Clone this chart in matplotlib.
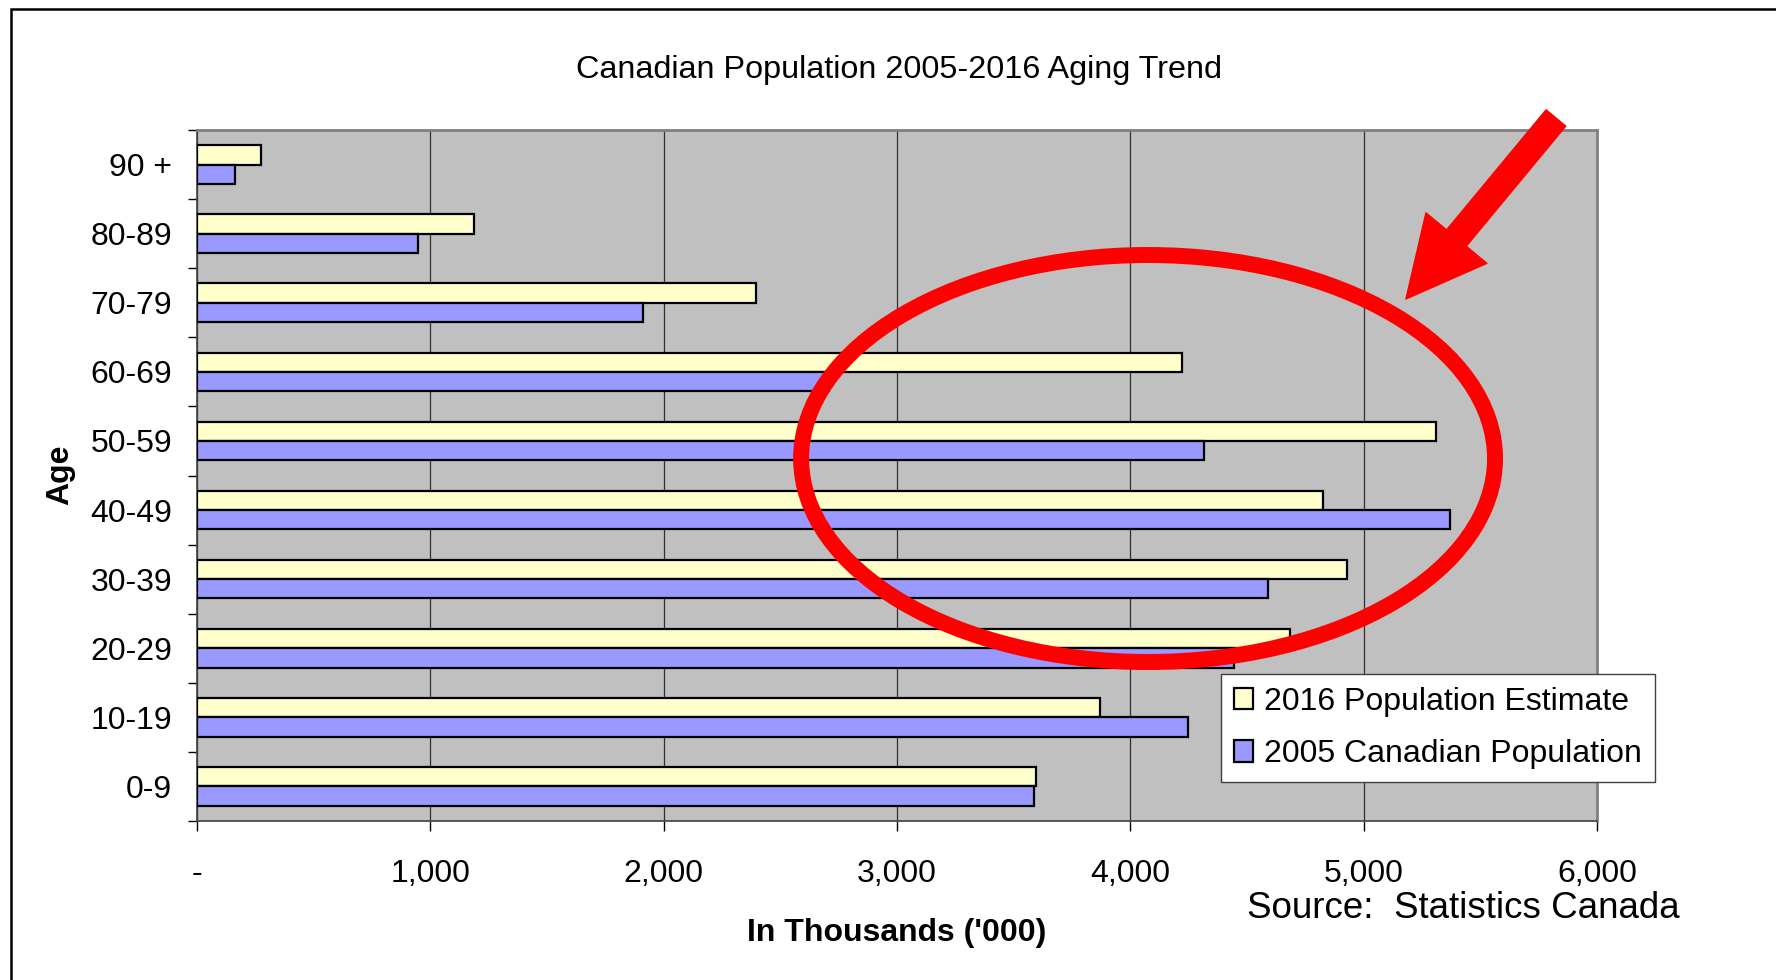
import matplotlib.pyplot as plt
import matplotlib.patches as mpatches
import numpy as np

plt.rcParams['font.family'] = ['Liberation Sans', 'DejaVu Sans']

ages = ['0-9', '10-19', '20-29', '30-39', '40-49', '50-59', '60-69', '70-79', '80-89', '90 +']
pop_2016 = [3595, 3868, 4686, 4929, 4824, 5311, 4220, 2396, 1189, 273]
pop_2005 = [3585, 4247, 4445, 4589, 5368, 4316, 2710, 1911, 946, 164]
xticks = [0, 1000, 2000, 3000, 4000, 5000, 6000]
xlabels = ['-', '1,000', '2,000', '3,000', '4,000', '5,000', '6,000']

W, H = 1776, 980
fig = plt.figure(figsize=(W / 100, H / 100), dpi=100)
ax = fig.add_axes([197 / W, 1 - 821 / H, 1400 / W, 691 / H])
ax.set_facecolor('#C0C0C0')

y = np.arange(len(ages))
bh = 0.28
ax.barh(y + bh / 2, pop_2016, height=bh, color='#FFFFCC', edgecolor='black',
        linewidth=1.6, label='2016 Population Estimate', zorder=3)
ax.barh(y - bh / 2, pop_2005, height=bh, color='#9999FF', edgecolor='black',
        linewidth=1.6, label='2005 Canadian Population', zorder=3)

ax.set_xlim(0, 6000)
ax.set_ylim(-0.5, len(ages) - 0.5)
ax.set_xticks(xticks)
ax.set_xticklabels(xlabels, fontsize=23)
ax.set_yticks(y)
ax.set_yticklabels(ages, fontsize=23)
ax.set_yticks(np.arange(-0.5, len(ages)), minor=True)
ax.tick_params(axis='y', which='major', length=0, pad=18)
ax.tick_params(axis='y', which='minor', length=6.5, width=1, direction='out')
ax.tick_params(axis='x', length=7, width=1, direction='out', pad=20)
ax.grid(axis='x', color='#303030', linewidth=0.9, zorder=1)
ax.set_axisbelow(True)

for s in ['top', 'right']:
    ax.spines[s].set_color('#808080')
    ax.spines[s].set_linewidth(2)
for s in ['left', 'bottom']:
    ax.spines[s].set_color('#404040')
    ax.spines[s].set_linewidth(1.2)

ax.legend(loc='upper left', bbox_to_anchor=(1221 / W, 1 - 674 / H),
          bbox_transform=fig.transFigure, fontsize=23, frameon=True,
          fancybox=False, edgecolor='#404040', framealpha=1,
          handlelength=0.6, handleheight=0.65, handletextpad=0.35,
          borderpad=0.4, labelspacing=0.7, borderaxespad=0)

# red highlight
ell = mpatches.Ellipse((4076, 4.746), 2974, 5.89, fill=False, edgecolor='#FF0000',
                       linewidth=11.5, zorder=5, clip_on=False)
ax.add_patch(ell)
ax.annotate('', xy=(5181, 7.054), xytext=(5824, 9.674),
            arrowprops=dict(arrowstyle='simple,head_length=5.7,head_width=5.7,tail_width=1.84',
                            color='#FF0000', mutation_scale=10, shrinkA=0, shrinkB=0),
            annotation_clip=False, zorder=6)

fig.text(899 / W, 1 - 70 / H, 'Canadian Population 2005-2016 Aging Trend',
         ha='center', va='center', fontsize=23.3)
fig.text(60 / W, 1 - 475 / H, 'Age', rotation=90, ha='center', va='center',
         fontsize=23, fontweight='bold')
fig.text(897 / W, 1 - 933 / H, "In Thousands ('000)", ha='center', va='center',
         fontsize=23, fontweight='bold')
fig.text(1463 / W, 1 - 908 / H, 'Source:  Statistics Canada', ha='center',
         va='center', fontsize=26.5)

# outer frame
fig.add_artist(mpatches.Rectangle((11 / W, -0.1), 1.2, 0.1 + 1 - 9.5 / H, fill=False,
                                  edgecolor='black', linewidth=1.8,
                                  transform=fig.transFigure))

fig.savefig('out.png', dpi=100)
